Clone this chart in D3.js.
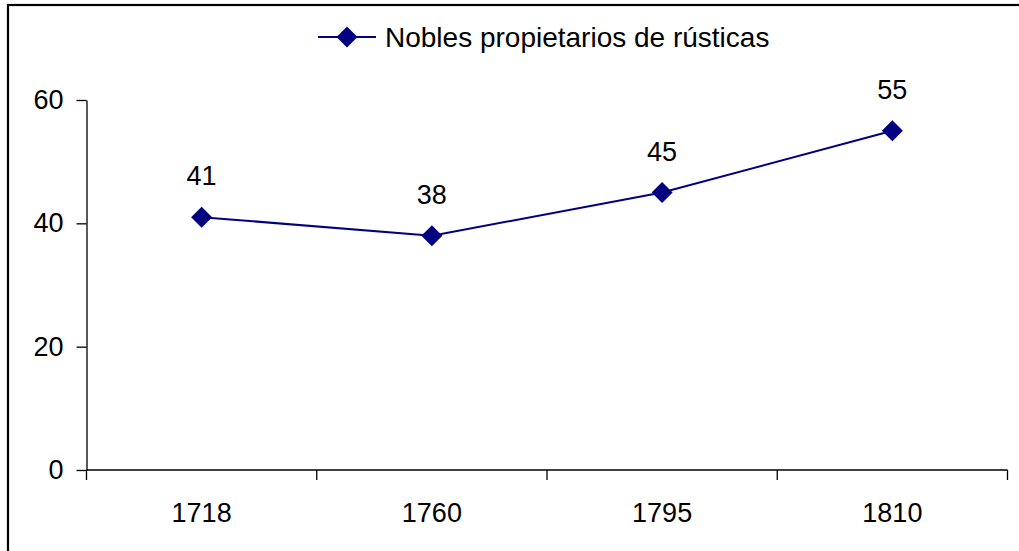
<!DOCTYPE html>
<meta charset="utf-8">
<style>
  body { margin: 0; background: #fff; }
  svg text { font-family: "Liberation Sans", Arial, sans-serif; fill: #000; }
</style>
<body>
<script src="https://d3js.org/d3.v7.min.js"></script>
<script>

// data
const years = ["1718", "1760", "1795", "1810"];
const nobles = [41, 38, 45, 55];
const yTicks = [0, 20, 40, 60];
const seriesName = "Nobles propietarios de rústicas";

const W = 1019, H = 551;
const plot = { left: 86.5, right: 1007.5, top: 100, bottom: 470 };
const fontSize = 27;
const navy = "#000080";

const svg = d3.select("body").append("svg")
  .attr("width", W)
  .attr("height", H);

svg.append("rect").attr("width", W).attr("height", H).attr("fill", "#fff");

// frame (only top and left are visible in the picture)
svg.append("rect")
  .attr("x", 8).attr("y", 5)
  .attr("width", W + 20).attr("height", H + 20)
  .attr("fill", "none")
  .attr("stroke", "#000")
  .attr("stroke-width", 2.2);

const x = d3.scaleBand().domain(years).range([plot.left, plot.right]);
const y = d3.scaleLinear().domain([0, 60]).range([plot.bottom, plot.top]);

// y axis
const yAxis = svg.append("g")
  .attr("transform", `translate(${plot.left},0)`)
  .call(d3.axisLeft(y).tickValues(yTicks).tickSize(10).tickPadding(13).tickSizeOuter(0));
yAxis.select(".domain").attr("stroke", "#000").attr("stroke-width", 1.3);
yAxis.selectAll(".tick line").attr("stroke", "#000").attr("stroke-width", 1.3);
yAxis.selectAll("text").style("font-size", fontSize + "px").attr("fill", "#000");

// x axis: ticks at band edges, labels at centres
const xAxis = svg.append("g").attr("transform", `translate(0,${plot.bottom})`);
xAxis.append("line")
  .attr("x1", plot.left).attr("x2", plot.right)
  .attr("stroke", "#000").attr("stroke-width", 1.3);
const edges = years.map(d => x(d)).concat([x(years[years.length - 1]) + x.bandwidth()]);
xAxis.selectAll("line.edge").data(edges).join("line")
  .attr("class", "edge")
  .attr("x1", d => d).attr("x2", d => d)
  .attr("y1", 0).attr("y2", 10)
  .attr("stroke", "#000").attr("stroke-width", 1.3);
xAxis.selectAll("text").data(years).join("text")
  .attr("x", d => x(d) + x.bandwidth() / 2)
  .attr("y", 52)
  .attr("text-anchor", "middle")
  .style("font-size", fontSize + "px")
  .text(d => d);

// series
const pts = years.map((d, i) => ({ year: d, v: nobles[i] }));
const cx = d => x(d.year) + x.bandwidth() / 2;

svg.append("path")
  .datum(pts)
  .attr("fill", "none")
  .attr("stroke", navy)
  .attr("stroke-width", 2)
  .attr("d", d3.line().x(cx).y(d => y(d.v)));

const diamond = d3.symbol().type(d3.symbolSquare).size(220);
svg.selectAll("path.mark").data(pts).join("path")
  .attr("class", "mark")
  .attr("d", diamond)
  .attr("fill", navy)
  .attr("transform", d => `translate(${cx(d)},${y(d.v)}) rotate(45)`);

svg.selectAll("text.lbl").data(pts).join("text")
  .attr("class", "lbl")
  .attr("x", cx)
  .attr("y", d => y(d.v) - 32)
  .attr("text-anchor", "middle")
  .style("font-size", fontSize + "px")
  .text(d => d.v);

// legend
const lg = svg.append("g").attr("transform", "translate(318,37)");
lg.append("line").attr("x1", 0).attr("x2", 58)
  .attr("stroke", navy).attr("stroke-width", 2);
lg.append("path").attr("d", diamond).attr("fill", navy)
  .attr("transform", "translate(29,0) rotate(45)");
lg.append("text")
  .attr("x", 67).attr("y", 10)
  .style("font-size", "28px")
  .text(seriesName);

</script>
</body>
